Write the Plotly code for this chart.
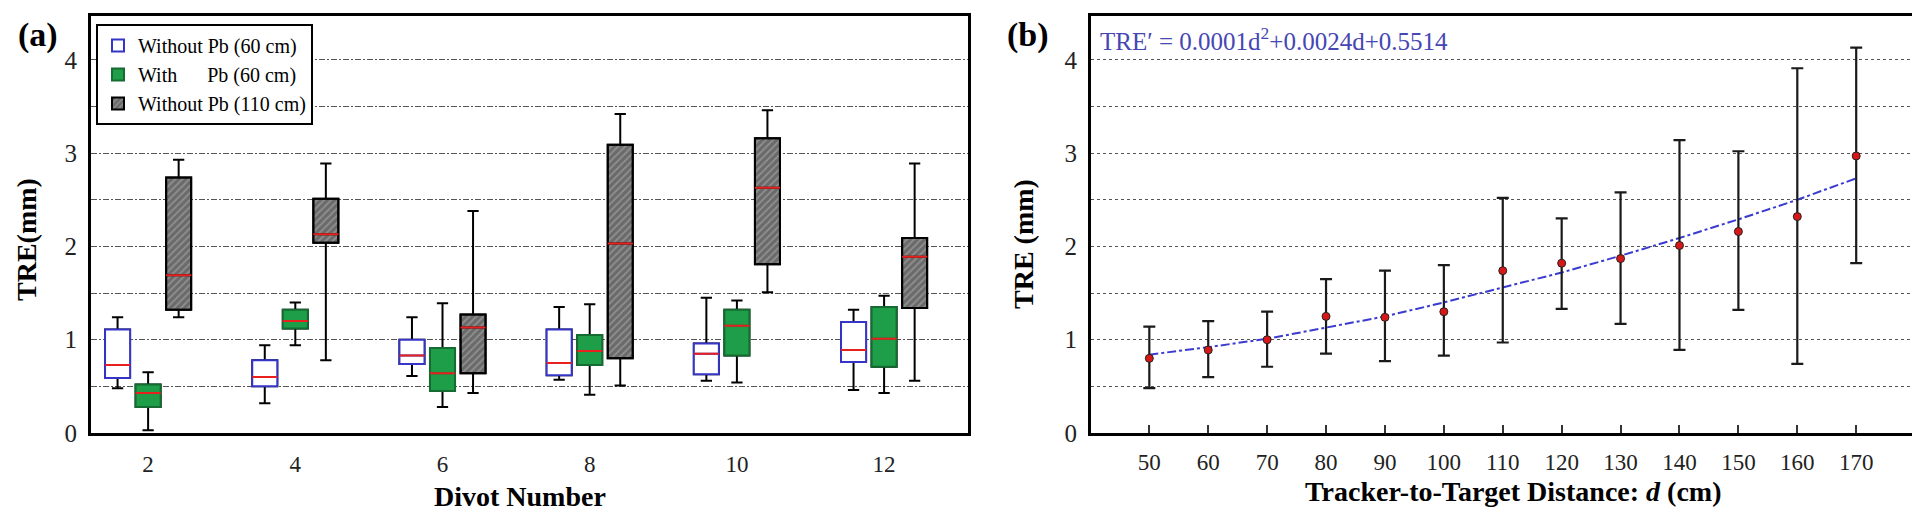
import plotly.graph_objects as go

# ---- panel (a): TRE per divot, box stats ----
divots = [2, 4, 6, 8, 10, 12]

# Without Pb (60 cm)
nopb60_low = [0.48, 0.32, 0.61, 0.57, 0.56, 0.46]
nopb60_q1 = [0.59, 0.50, 0.74, 0.62, 0.63, 0.76]
nopb60_med = [0.73, 0.60, 0.83, 0.75, 0.85, 0.89]
nopb60_q3 = [1.11, 0.78, 1.00, 1.11, 0.96, 1.19]
nopb60_high = [1.24, 0.94, 1.24, 1.35, 1.45, 1.32]

# With Pb (60 cm)
pb60_low = [0.03, 0.94, 0.28, 0.41, 0.54, 0.43]
pb60_q1 = [0.28, 1.12, 0.45, 0.73, 0.83, 0.71]
pb60_med = [0.43, 1.20, 0.64, 0.88, 1.15, 1.01]
pb60_q3 = [0.52, 1.32, 0.91, 1.05, 1.32, 1.35]
pb60_high = [0.65, 1.40, 1.39, 1.38, 1.42, 1.47]

# Without Pb (110 cm)
nopb110_low = [1.24, 0.78, 0.43, 0.51, 1.51, 0.56]
nopb110_q1 = [1.32, 2.04, 0.64, 0.80, 1.81, 1.34]
nopb110_med = [1.69, 2.13, 1.13, 2.03, 2.63, 1.89]
nopb110_q3 = [2.74, 2.51, 1.27, 3.09, 3.16, 2.09]
nopb110_high = [2.93, 2.89, 2.38, 3.42, 3.46, 2.89]

# ---- panel (b): TRE vs tracker-to-target distance ----
distance = [50, 60, 70, 80, 90, 100, 110, 120, 130, 140, 150, 160, 170]
tre_mean = [0.80, 0.89, 1.00, 1.25, 1.24, 1.30, 1.74, 1.82, 1.87, 2.01, 2.16, 2.32, 2.97]
tre_upper = [1.14, 1.20, 1.30, 1.65, 1.74, 1.80, 2.52, 2.30, 2.58, 3.14, 3.02, 3.91, 4.13]
tre_lower = [0.48, 0.60, 0.71, 0.85, 0.77, 0.83, 0.97, 1.33, 1.17, 0.89, 1.32, 0.74, 1.82]
tre_fit = [0.84, 0.92, 1.01, 1.13, 1.25, 1.40, 1.56, 1.72, 1.90, 2.09, 2.29, 2.50, 2.73]

W, H = 1920, 513
SERIF = "Liberation Serif"
BLUE = "#3535c8"
GREEN = "#1e9e48"
GREEN_LINE = "#166b32"
MED_RED = "#e8201e"

# box geometry (units of the divot axis) -- used for the hatched bar under the grey boxes
SLOT = 0.415
BOX_W = 0.34

fig = go.Figure()

# hatched body of the 110 cm boxes
fig.add_trace(go.Bar(
    x=divots, y=[h - l for h, l in zip(nopb110_q3, nopb110_q1)], base=nopb110_q1,
    width=BOX_W, offset=SLOT - BOX_W / 2,
    marker=dict(color="#6f6f6f", line=dict(color="black", width=2),
                pattern=dict(shape="/", fgcolor="#b4b4b4", bgcolor="#6a6a6a", size=5, solidity=0.35)),
    name="Without Pb (110 cm)", legendrank=3, xaxis="x", yaxis="y"))

series = [
    ("g1", nopb60_low, nopb60_q1, nopb60_med, nopb60_q3, nopb60_high, "white", BLUE, "Without Pb (60 cm)", 1),
    ("g2", pb60_low, pb60_q1, pb60_med, pb60_q3, pb60_high, GREEN, GREEN_LINE,
     "With\u00a0\u00a0\u00a0\u00a0\u00a0\u00a0Pb (60 cm)", 2),
    ("g3", nopb110_low, nopb110_q1, nopb110_med, nopb110_q3, nopb110_high, "rgba(0,0,0,0)", None, None, 3),
]

for grp, lo, q1, med, q3, hi, fill, edge, name, rank in series:
    # whiskers + black box
    fig.add_trace(go.Box(
        x=divots, lowerfence=lo, q1=q1, median=med, q3=q3, upperfence=hi,
        offsetgroup=grp, fillcolor=fill, line=dict(color="black", width=2),
        whiskerwidth=0.45, showlegend=False, hoverinfo="skip"))
    # coloured outline
    if edge is not None:
        fig.add_trace(go.Box(
            x=divots, lowerfence=q1, q1=q1, median=med, q3=q3, upperfence=q3,
            offsetgroup=grp, fillcolor=fill, line=dict(color=edge, width=2),
            whiskerwidth=0, name=name, legendrank=rank, hoverinfo="skip"))
    # red median line
    fig.add_trace(go.Box(
        x=divots, lowerfence=med, q1=med, median=med, q3=med, upperfence=med,
        offsetgroup=grp, fillcolor="rgba(0,0,0,0)", line=dict(color=MED_RED, width=2),
        whiskerwidth=0, showlegend=False, hoverinfo="skip"))

# panel (b)
fig.add_trace(go.Scatter(
    x=distance, y=tre_fit, mode="lines", line=dict(color="#3b3bd0", width=2, dash="dashdot"),
    showlegend=False, xaxis="x2", yaxis="y2"))
fig.add_trace(go.Scatter(
    x=distance, y=tre_mean, mode="markers",
    marker=dict(color="#d81818", size=8, line=dict(color="#222", width=1)),
    error_y=dict(type="data", symmetric=False,
                 array=[u - m for u, m in zip(tre_upper, tre_mean)],
                 arrayminus=[m - l for m, l in zip(tre_mean, tre_lower)],
                 color="#1a1a1a", thickness=2.2, width=6),
    showlegend=False, xaxis="x2", yaxis="y2"))

tick_font = dict(family=SERIF, size=23, color="#222")
ytick_font = dict(family=SERIF, size=25, color="#222")
frame = dict(showline=True, linecolor="black", linewidth=3, mirror=True, zeroline=False)

plot_top, plot_bot = 8, 425


def px_x(p):
    return p / W


def px_y(p):
    return (plot_bot - p) / (plot_bot - plot_top)


fig.update_layout(
    width=W, height=H,
    margin=dict(l=0, r=0, t=plot_top, b=H - plot_bot),
    paper_bgcolor="white", plot_bgcolor="white",
    font=dict(family=SERIF, color="black"),
    boxmode="group", boxgap=0.3775, boxgroupgap=0.18,
    xaxis=dict(domain=[px_x(83), px_x(960)], range=[1.224, 13.14],
               tickvals=divots, showgrid=False, ticks="", tickfont=tick_font,
               ticklabelstandoff=8, **frame),
    yaxis=dict(domain=[0, 1], range=[0, 4.47], dtick=1, tick0=0, tickfont=ytick_font,
               showgrid=True, gridcolor="#555", gridwidth=1, griddash="6px,2px,2px,2px",
               minor=dict(dtick=0.5, tick0=0, showgrid=True, gridcolor="#555",
                          gridwidth=1, griddash="6px,2px,2px,2px"),
               ticks="", ticklabelstandoff=6, **frame),
    xaxis2=dict(domain=[px_x(1083), px_x(1913)], range=[40.1, 181], anchor="y2",
                tickvals=distance, showgrid=False, ticks="inside", ticklen=8, tickwidth=1.5,
                tickcolor="#333", tickfont=tick_font, ticklabelstandoff=6, **frame),
    yaxis2=dict(domain=[0, 1], anchor="x2", range=[0, 4.47], dtick=1, tick0=0, tickfont=ytick_font,
                showgrid=True, gridcolor="#555", gridwidth=1.2, griddash="3px,3px",
                minor=dict(dtick=0.5, tick0=0, showgrid=True, gridcolor="#555",
                           gridwidth=1.2, griddash="3px,3px"),
                ticks="", ticklabelstandoff=6, **frame),
    legend=dict(x=px_x(88), y=px_y(16), xanchor="left", yanchor="top",
                bgcolor="white", bordercolor="black", borderwidth=2,
                font=dict(family=SERIF, size=20, color="black"),
                tracegroupgap=0, itemwidth=30),
)

title_font = dict(family=SERIF, size=28, color="black")
annotations = [
    dict(text="<b>(a)</b>", x=px_x(30), y=px_y(27), font=dict(family=SERIF, size=34)),
    dict(text="<b>(b)</b>", x=px_x(1020), y=px_y(27), font=dict(family=SERIF, size=34)),
    dict(text="<b>TRE(mm)</b>", x=px_x(18), y=px_y(232), textangle=-90, font=title_font),
    dict(text="<b>TRE (mm)</b>", x=px_x(1016), y=px_y(236), textangle=-90, font=title_font),
    dict(text="<b>Divot Number</b>", x=px_x(512), y=px_y(488), font=title_font),
    dict(text="<b>Tracker-to-Target Distance: <i>d</i> (cm)</b>", x=px_x(1505), y=px_y(483),
         font=title_font),
    dict(text="TRE\u2032 = 0.0001d<sup>2</sup>+0.0024d+0.5514", x=px_x(1090), y=px_y(31),
         xanchor="left", font=dict(family=SERIF, size=25, color="#4646b4")),
]
for a in annotations:
    a.setdefault("xanchor", "center")
    fig.add_annotation(xref="paper", yref="paper", showarrow=False, yanchor="middle", **a)

fig.write_html("out.html")
